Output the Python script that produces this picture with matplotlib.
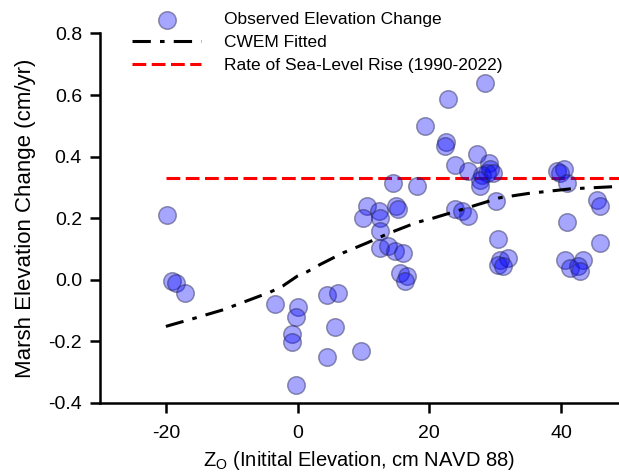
import matplotlib
matplotlib.use("Agg")
import matplotlib.pyplot as plt

plt.rcParams['font.family'] = ['Liberation Sans', 'DejaVu Sans']

# Observed elevation change
x_obs = [-19.9, -19.1, -18.4, -17.1, -3.4, 0.1, -0.3, -0.9, -0.8, -0.3,
         4.4, 6.2, 5.7, 4.4, 9.6, 10.5, 10.0, 12.3, 12.5, 12.5,
         12.5, 13.8, 14.8, 16.0, 15.0, 15.3, 14.5, 15.5, 16.6, 16.3,
         18.1, 28.5, 22.9, 19.3, 22.6, 22.4, 23.9, 27.3, 25.9, 29.0,
         29.2, 28.0, 28.7, 27.7, 29.7, 27.7, 30.2, 23.9, 24.9, 25.9,
         30.5, 30.7, 32.0, 30.5, 31.2, 39.4, 40.4, 39.8, 40.9, 45.4,
         45.9, 40.9, 45.9, 40.6, 41.4, 43.4, 42.6, 42.9]
y_obs = [0.211, -0.006, -0.011, -0.043, -0.078, -0.090, -0.121, -0.176, -0.204, -0.344,
         -0.049, -0.043, -0.155, -0.253, -0.231, 0.238, 0.200, 0.222, 0.200, 0.157,
         0.103, 0.108, 0.092, 0.087, 0.238, 0.228, 0.314, 0.022, 0.011, -0.005,
         0.303, 0.640, 0.588, 0.499, 0.447, 0.434, 0.371, 0.407, 0.352, 0.380,
         0.358, 0.341, 0.347, 0.325, 0.347, 0.303, 0.255, 0.228, 0.222, 0.206,
         0.132, 0.065, 0.070, 0.049, 0.043, 0.352, 0.358, 0.345, 0.314, 0.260,
         0.238, 0.187, 0.119, 0.065, 0.038, 0.065, 0.043, 0.027]

# CWEM fitted curve
x_fit = [-20, -15.9, -11.3, -7.2, -4.2, -2.2, 0, 1.4, 3.4, 6.9, 10.5, 14.0,
         18.1, 20.6, 25.7, 30.7, 35.0, 41.4, 48.8]
y_fit = [-0.152, -0.127, -0.098, -0.065, -0.041, -0.020, 0.012, 0.025, 0.049,
         0.087, 0.119, 0.152, 0.186, 0.200, 0.233, 0.266, 0.280, 0.295, 0.303]

# Sea-level rise rate
slr_x = [-20, 48.8]
slr_y = [0.33, 0.33]

xticks = [-20, 0, 20, 40]
yticks = [-0.4, -0.2, 0.0, 0.2, 0.4, 0.6, 0.8]

W, H = 619, 473
fig = plt.figure(figsize=(W / 100, H / 100), dpi=100)
ax = fig.add_axes([100 / W, 1 - 402.7 / H, 1 - 100 / W, (402.7 - 33.5) / H])

sc = ax.scatter(x_obs, y_obs, s=160, facecolor=(0, 0, 1, 0.35),
                edgecolor=(0.15, 0.15, 0.3, 0.45), linewidth=1.1, zorder=3,
                label='Observed Elevation Change')
fit, = ax.plot(x_fit, y_fit, color='black', linestyle=(0, (6, 3, 1.5, 3)),
               linewidth=2.2, zorder=4, label='CWEM Fitted')
slr, = ax.plot(slr_x, slr_y, color='red', linestyle=(0, (4.5, 1.8)),
               linewidth=2.2, zorder=2, label='Rate of Sea-Level Rise (1990-2022)')

ax.set_xlim(-30, 48.8)
ax.set_ylim(-0.4, 0.8)
ax.set_xticks(xticks)
ax.set_xticklabels([str(t) for t in xticks])
ax.set_yticks(yticks)
ax.set_yticklabels([f"{t:.1f}" for t in yticks])

for s in ['top', 'right']:
    ax.spines[s].set_visible(False)
for s in ['left', 'bottom']:
    ax.spines[s].set_linewidth(1.8)
ax.tick_params(axis='both', direction='out', length=7, width=1.8, labelsize=14)
ax.tick_params(axis='x', pad=9)
ax.tick_params(axis='y', pad=6)

ax.set_ylabel('Marsh Elevation Change (cm/yr)', fontsize=16, labelpad=9)
ax.set_xlabel(r'Z$_\mathregular{O}$ (Initital Elevation, cm NAVD 88)', fontsize=14.5, labelpad=5)

leg = ax.legend(handles=[sc, fit, slr], loc='upper left',
                bbox_to_anchor=(132 / W, 1 - 12 / H), bbox_transform=fig.transFigure,
                frameon=False, fontsize=12.5, handlelength=4.0, handletextpad=1.3,
                labelspacing=0.45, borderpad=0, borderaxespad=0)

fig.savefig('out.png', dpi=100)
